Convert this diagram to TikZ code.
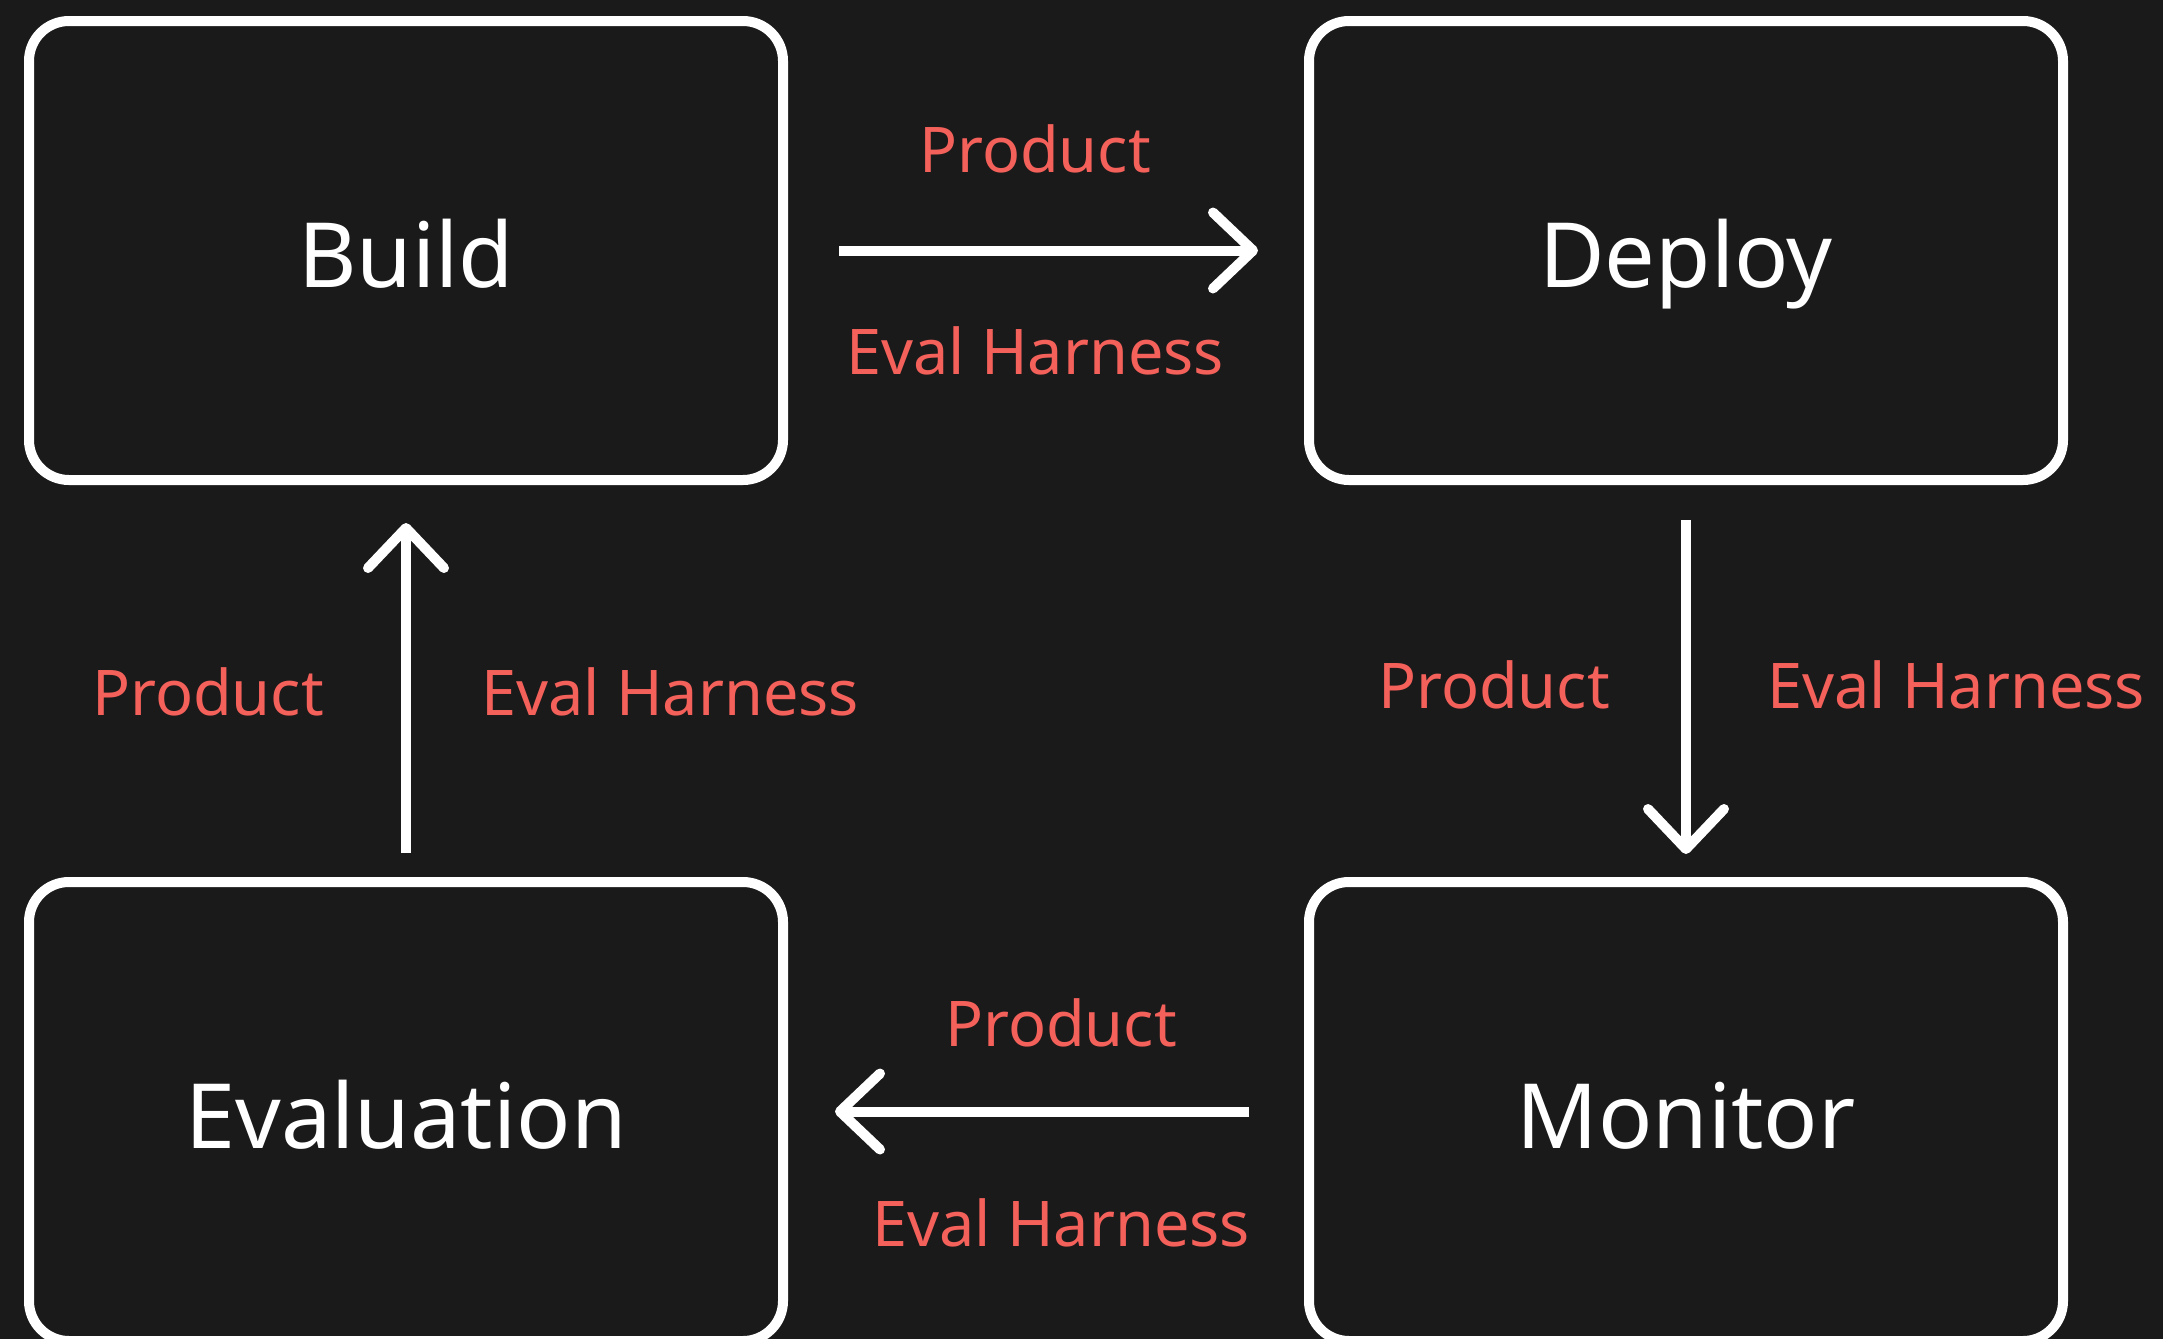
\documentclass[tikz,border=0pt]{standalone}
\usepackage{fontspec}
\setmainfont{Noto Sans}
\usetikzlibrary{arrows.meta}
\definecolor{bg}{HTML}{1A1A1A}
\definecolor{lab}{HTML}{F4605A}
\begin{document}
\begin{tikzpicture}[x=1pt,y=-1pt,
  box/.style={draw=white, line width=10pt, rounded corners=40pt, outer sep=0pt,
    minimum width=754pt, minimum height=459pt, fill=bg, inner sep=0pt,
    text=white, font=\fontsize{90}{100}\selectfont, text height=73pt, text depth=0pt},
  conn/.style={draw=white, line width=10pt,
    -{Straight Barb[length=40pt, width=76pt, line cap=round, line join=round]}},
  lbl/.style={text=lab, font=\fontsize{63}{70}\selectfont, anchor=base, inner sep=0pt}]
\fill[bg] (0,0) rectangle (2163,1339);
\useasboundingbox (0,0) rectangle (2163,1339);
\node[box] (build) at (406,250.5) {Build};
\node[box] (deploy) at (1686,250.5) {Deploy};
\node[box] (monitor) at (1686,1111.5) {Monitor};
\node[box] (eval) at (406,1111.5) {Evaluation};
\draw[conn] ([xshift=56pt]build.east) -- ([xshift=-51pt]deploy.west);
\draw[conn] ([yshift=-40pt]deploy.south) -- ([yshift=28pt]monitor.north);
\draw[conn] ([xshift=-60pt]monitor.west) -- ([xshift=52pt]eval.east);
\draw[conn] ([yshift=29pt]eval.north) -- ([yshift=-43pt]build.south);
\node[lbl] (p1) at (1035,172) {Product};
\node[lbl] (e1) at (1035,374) {Eval Harness};
\node[lbl] (p2) at (1494,708) {Product};
\node[lbl] (e2) at (1956,708) {Eval Harness};
\node[lbl] (p3) at (1061,1046) {Product};
\node[lbl] (e3) at (1061,1246) {Eval Harness};
\node[lbl] (p4) at (208,715) {Product};
\node[lbl] (e4) at (670,715) {Eval Harness};
\end{tikzpicture}
\end{document}
